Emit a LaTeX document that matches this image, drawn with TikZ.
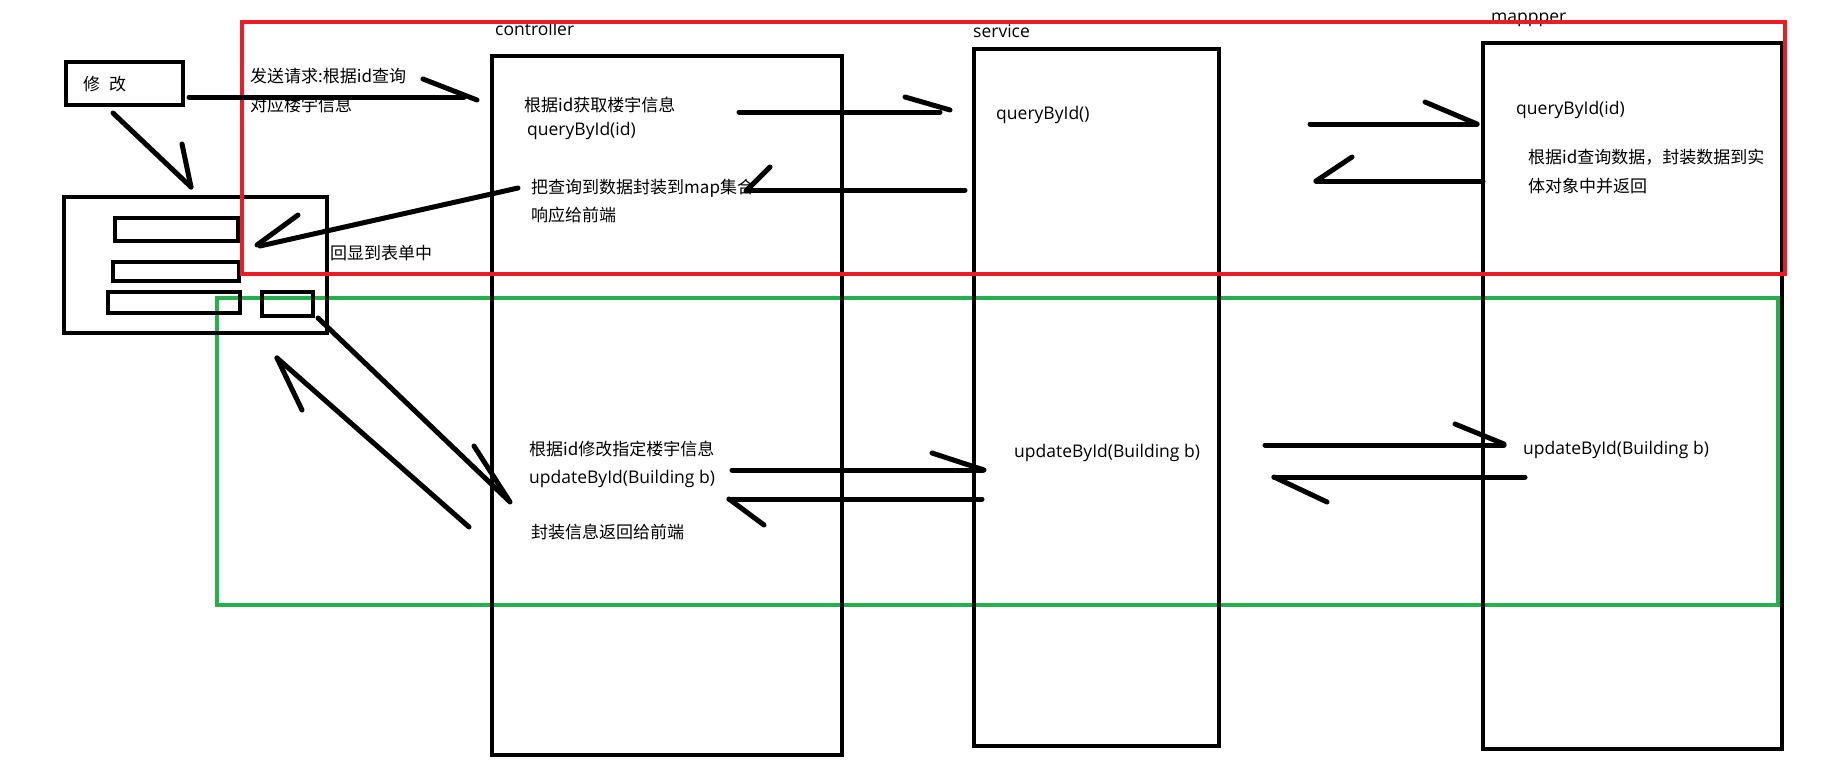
\documentclass[tikz,border=0pt]{standalone}
\usepackage{fontspec}
\setmainfont{Noto Sans CJK SC}
\newfontfamily\latinfont{Open Sans}
\definecolor{paintred}{RGB}{237,28,36}
\definecolor{paintgreen}{RGB}{34,177,76}
\begin{document}
\begin{tikzpicture}[x=1pt,y=-1pt,
  box/.style={draw=black,line width=4pt,inner sep=0pt,outer sep=0pt,anchor=north west},
  redframe/.style={draw=paintred,line width=4.5pt,inner sep=0pt,outer sep=0pt,anchor=north west},
  greenframe/.style={draw=paintgreen,line width=4.5pt,inner sep=0pt,outer sep=0pt,anchor=north west},
  stroke/.style={line width=5pt,line cap=round,line join=round},
  cjk/.style={anchor=base west,inner sep=0pt,font=\fontsize{17}{20}\selectfont},
  lat/.style={anchor=base west,inner sep=0pt,font=\latinfont\fontsize{17.5}{20}\selectfont},
]
\useasboundingbox[fill=white] (0,0) rectangle (1827,779);

% green frame (below everything)
\node[greenframe,minimum width=1561pt,minimum height=307pt] (greenbox) at (217,298) {};

% boxes
\node[box,minimum width=117pt,minimum height=43pt] (modify) at (66,62) {};
\node[box,minimum width=263pt,minimum height=136pt] (form) at (64,197) {};
\node[box,minimum width=123pt,minimum height=23pt] (f1) at (115,218) {};
\node[box,minimum width=126pt,minimum height=19pt] (f2) at (113,262) {};
\node[box,minimum width=132pt,minimum height=21pt] (f3) at (108,292) {};
\node[box,minimum width=51pt,minimum height=24pt] (f4) at (262,292) {};
\node[box,minimum width=350pt,minimum height=699pt] (ctrl) at (492,56) {};
\node[box,minimum width=245pt,minimum height=697pt] (svc) at (974,49) {};
\node[box,minimum width=299pt,minimum height=706pt] (mapper) at (1483,43) {};

% texts
\node[cjk] (tmod) at (83,90) {修\hspace{9pt}改};
\node[lat] (tctrl) at (495,35) {controller};
\node[lat] (tsvc) at (973,37) {service};
\node[lat] (tmap) at (1491,22) {mappper};

\node[cjk] (t1) at (250,82) {发送请求:根据id查询};
\node[cjk] (t2) at (250,111) {对应楼宇信息};
\node[cjk] (t3) at (330,259) {回显到表单中};
\node[cjk] (t4) at (524,111) {根据id获取楼宇信息};
\node[lat] (t5) at (527,135) {queryById(id)};
\node[cjk] (t6) at (531,193) {把查询到数据封装到map集合};
\node[cjk] (t7) at (531,221) {响应给前端};
\node[lat] (t8) at (996,119) {queryById()};
\node[lat] (t9) at (1516,114) {queryById(id)};
\node[cjk] (t10) at (1528,163) {根据id查询数据，封装数据到实};
\node[cjk] (t11) at (1528,192) {体对象中并返回};
\node[cjk] (t12) at (529,455) {根据id修改指定楼宇信息};
\node[lat] (t13) at (529,483) {updateById(Building b)};
\node[cjk] (t14) at (531,538) {封装信息返回给前端};
\node[lat] (t15) at (1014,457) {updateById(Building b)};
\node[lat] (t16) at (1523,454) {updateById(Building b)};

% red frame (over boxes and texts)
\node[redframe,minimum width=1543pt,minimum height=252pt] (redbox) at (242,22) {};

% arrow coordinates
\coordinate (a1s) at (189,97);   \coordinate (a1e) at (464,97);
\coordinate (a1h) at (423,79);   \coordinate (a1t) at (477,100);
\coordinate (a2s) at (113,113);  \coordinate (a2e) at (191,187);
\coordinate (a2h) at (182,144);  \coordinate (a2t) at (191,187);
\coordinate (a3s) at (739,112);  \coordinate (a3e) at (940,112);
\coordinate (a3h) at (905,97);   \coordinate (a3t) at (950,110);
\coordinate (a4s) at (965,190);  \coordinate (a4e) at (748,190);
\coordinate (a4h) at (770,167);  \coordinate (a4t) at (746,191);
\coordinate (a5s) at (1310,124); \coordinate (a5e) at (1477,124);
\coordinate (a5h) at (1425,102); \coordinate (a5t) at (1477,124);
\coordinate (a6s) at (1483,181); \coordinate (a6e) at (1316,181);
\coordinate (a6h) at (1352,157); \coordinate (a6t) at (1316,181);
\coordinate (a7s) at (518,188);  \coordinate (a7e) at (260,246);
\coordinate (a7h) at (298,215);  \coordinate (a7t) at (257,245);
\coordinate (a8s) at (318,318);  \coordinate (a8e) at (509,501);
\coordinate (a8h) at (474,446);  \coordinate (a8t) at (510,502);
\coordinate (a9s) at (469,527);  \coordinate (a9e) at (277,358);
\coordinate (a9h) at (302,410);  \coordinate (a9t) at (277,358);
\coordinate (a10s) at (732,470); \coordinate (a10e) at (983,470);
\coordinate (a10h) at (932,453); \coordinate (a10t) at (984,470);
\coordinate (a11s) at (982,499); \coordinate (a11e) at (729,499);
\coordinate (a11h) at (764,525); \coordinate (a11t) at (729,499);
\coordinate (a12s) at (1265,445); \coordinate (a12e) at (1504,445);
\coordinate (a12h) at (1455,424); \coordinate (a12t) at (1504,444);
\coordinate (a13s) at (1525,477); \coordinate (a13e) at (1274,477);
\coordinate (a13h) at (1327,502); \coordinate (a13t) at (1274,477);

\foreach \n in {1,...,13}{
  \draw[stroke] (a\n s) -- (a\n e);
  \draw[stroke] (a\n h) -- (a\n t);
}
\end{tikzpicture}
\end{document}
